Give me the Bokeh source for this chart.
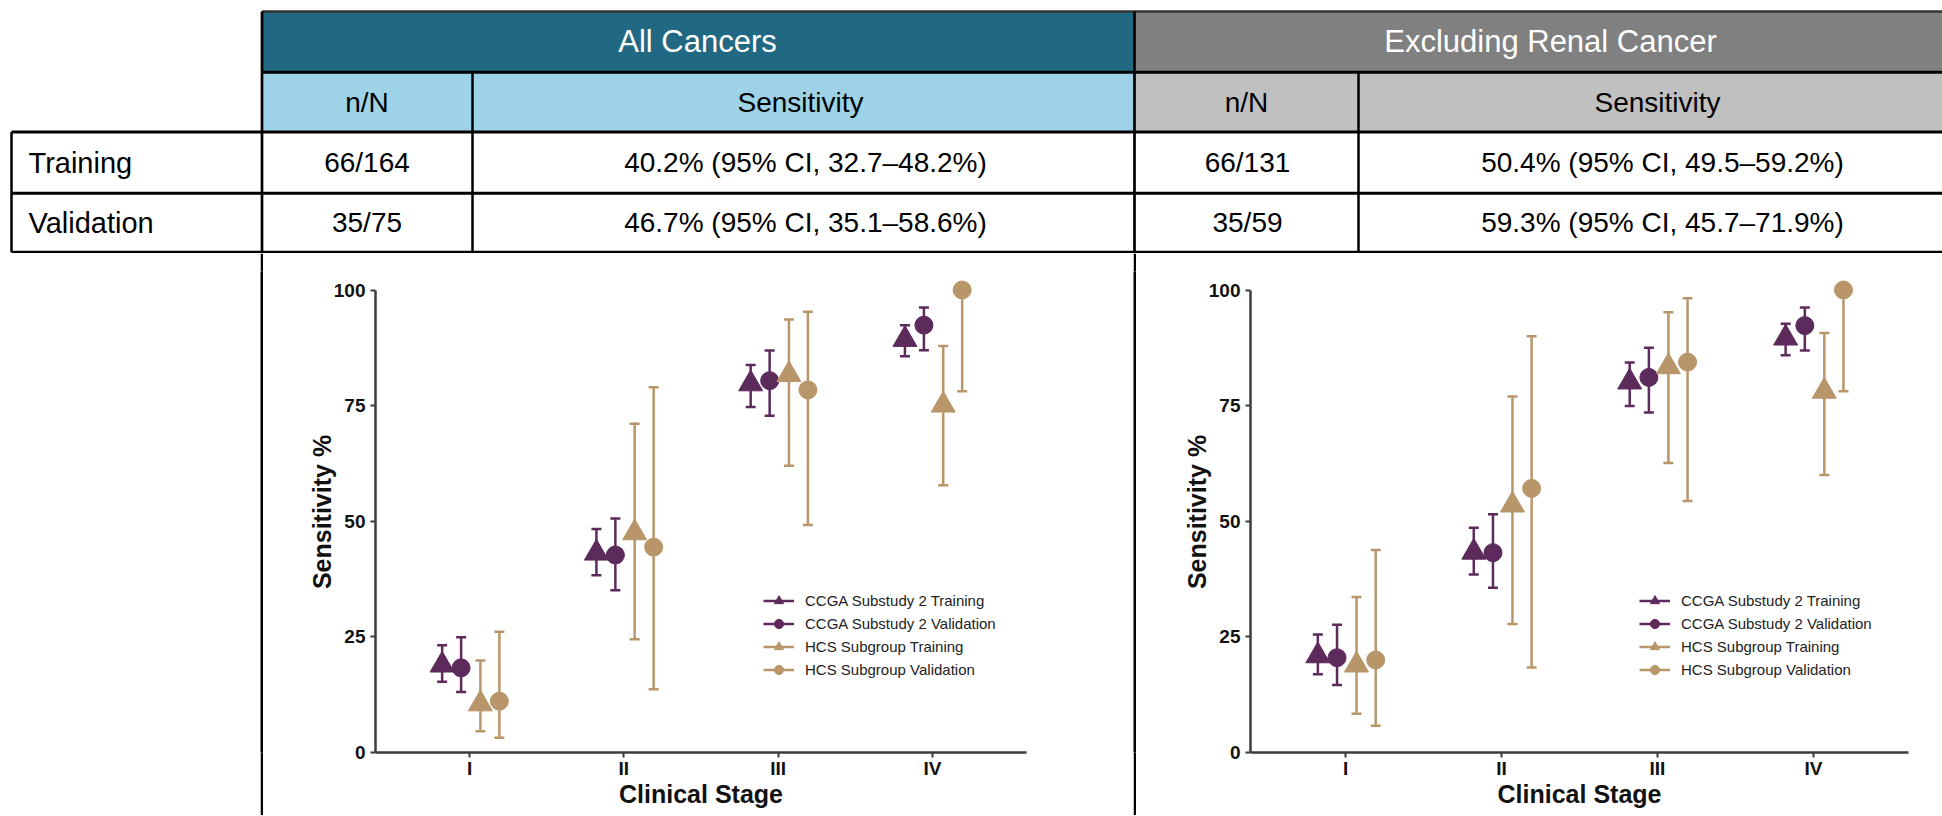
from bokeh.plotting import figure
from bokeh.layouts import column, row
from bokeh.models import ColumnDataSource, FactorRange, Range1d, FixedTicker, Legend, LegendItem
from bokeh.transform import dodge
from bokeh.core.properties import value
from bokeh.embed import file_html
from bokeh.resources import INLINE

# ---------------- table content ----------------
group_titles = ["All Cancers", "Excluding Renal Cancer"]
column_titles = ["n/N", "Sensitivity"]
row_labels = ["Training", "Validation"]
all_nN = ["66/164", "35/75"]
all_sens = ["40.2% (95% CI, 32.7–48.2%)", "46.7% (95% CI, 35.1–58.6%)"]
excl_nN = ["66/131", "35/59"]
excl_sens = ["50.4% (95% CI, 49.5–59.2%)", "59.3% (95% CI, 45.7–71.9%)"]

# ---------------- sensitivity by clinical stage ----------------
stages = ["I", "II", "III", "IV"]
series_names = ["CCGA Substudy 2 Training", "CCGA Substudy 2 Validation",
                "HCS Subgroup Training", "HCS Subgroup Validation"]

# All cancers
all_ccga_train = [18.9, 43.1, 79.7, 89.3]
all_ccga_train_lo = [15.3, 38.3, 74.7, 85.7]
all_ccga_train_hi = [23.2, 48.3, 83.8, 92.4]
all_ccga_val = [18.3, 42.7, 80.4, 92.4]
all_ccga_val_lo = [13.1, 35.1, 72.8, 87.0]
all_ccga_val_hi = [24.9, 50.6, 86.9, 96.2]
all_hcs_train = [10.5, 47.5, 81.7, 75.1]
all_hcs_train_lo = [4.6, 24.5, 62.0, 57.8]
all_hcs_train_hi = [19.9, 71.1, 93.6, 87.9]
all_hcs_val = [11.1, 44.4, 78.4, 100.0]
all_hcs_val_lo = [3.2, 13.7, 49.2, 78.1]
all_hcs_val_hi = [26.1, 79.0, 95.3, 100.0]

# Excluding renal cancer
ex_ccga_train = [20.9, 43.3, 80.1, 89.6]
ex_ccga_train_lo = [16.9, 38.5, 74.9, 85.9]
ex_ccga_train_hi = [25.5, 48.6, 84.3, 92.7]
ex_ccga_val = [20.5, 43.2, 81.1, 92.3]
ex_ccga_val_lo = [14.6, 35.6, 73.5, 86.9]
ex_ccga_val_hi = [27.6, 51.5, 87.5, 96.2]
ex_hcs_train = [18.9, 53.5, 83.4, 78.1]
ex_hcs_train_lo = [8.4, 27.8, 62.6, 60.0]
ex_hcs_train_hi = [33.6, 77.0, 95.2, 90.7]
ex_hcs_val = [20.0, 57.1, 84.4, 100.0]
ex_hcs_val_lo = [5.8, 18.4, 54.4, 78.1]
ex_hcs_val_hi = [43.8, 90.0, 98.2, 100.0]

PURPLE = "#5c2a5b"
TAN = "#b8966a"
TEAL = "#216882"
LIGHT_BLUE = "#9dd2e7"
DARK_GREY = "#808080"
LIGHT_GREY = "#c0c0c0"
FONT = "Liberation Sans"

series_style = [
    ("triangle", PURPLE, -0.178, 24),
    ("circle", PURPLE, -0.055, 18),
    ("triangle", TAN, 0.07, 24),
    ("circle", TAN, 0.193, 18),
]


def blank(width, height, fill="white"):
    f = figure(width=width, height=height, x_range=Range1d(0, 1), y_range=Range1d(0, 1),
               x_axis_location=None, y_axis_location=None, toolbar_location=None,
               output_backend="svg", min_border=0, outline_line_color=None,
               background_fill_color=fill, border_fill_color=fill)
    f.grid.visible = False
    return f


# ---------------- table ----------------
W = 1942
TH = 253
tbl = figure(width=W, height=TH, x_range=Range1d(0, W), y_range=Range1d(TH, 0),
             x_axis_location=None, y_axis_location=None, toolbar_location=None,
             output_backend="svg", min_border=0, outline_line_color=None)
tbl.grid.visible = False

y_top, y_h1, y_h2, y_r1, y_r2 = 11, 71.7, 131.5, 192.7, 251.7
x_left, x_g1, x_c1, x_g2, x_c2, x_right = 11, 261.5, 472, 1134, 1358, 1960

tbl.quad(left=[x_g1, x_g2, x_g1, x_g2], right=[x_g2, x_right, x_g2, x_right],
         top=[y_top, y_top, y_h1, y_h1], bottom=[y_h1, y_h1, y_h2, y_h2],
         fill_color=[TEAL, DARK_GREY, LIGHT_BLUE, LIGHT_GREY], line_color=None)

# horizontal rules
tbl.segment(x0=[x_g1], y0=[y_top], x1=[x_right], y1=[y_top], line_color="#333333", line_width=2.5)
tbl.segment(x0=[x_g1, x_left, x_left, x_left], y0=[y_h1, y_h2, y_r1, y_r2],
            x1=[x_right] * 4, y1=[y_h1, y_h2, y_r1, y_r2], line_color="black", line_width=3)
# vertical rules
tbl.segment(x0=[x_g1, x_g2], y0=[y_top, y_top], x1=[x_g1, x_g2], y1=[TH, TH],
            line_color="black", line_width=2.7)
tbl.segment(x0=[x_c1, x_c2, x_left], y0=[y_h1, y_h1, y_h2], x1=[x_c1, x_c2, x_left], y1=[y_r2, y_r2, y_r2],
            line_color="black", line_width=2.5)


def txt(size, align="center"):
    return dict(text_font=value(FONT), text_font_size=value(size), text_align=align,
                text_baseline="middle")


tbl.text(x=[697, 1550], y=[(y_top + y_h1) / 2] * 2, text=group_titles, text_color="white", **txt("31px"))
tbl.text(x=[366.5, 800, 1246, 1657], y=[(y_h1 + y_h2) / 2] * 4,
         text=column_titles + column_titles, text_color="black", **txt("28px"))
row_y = [(y_h2 + y_r1) / 2, (y_r1 + y_r2) / 2]
tbl.text(x=[366.5] * 2, y=row_y, text=all_nN, text_color="black", **txt("28px"))
tbl.text(x=[805] * 2, y=row_y, text=all_sens, text_color="black", **txt("28px"))
tbl.text(x=[1247] * 2, y=row_y, text=excl_nN, text_color="black", **txt("28px"))
tbl.text(x=[1662] * 2, y=row_y, text=excl_sens, text_color="black", **txt("28px"))
tbl.text(x=[28] * 2, y=row_y, text=row_labels, text_color="black", **txt("29px", "left"))


# ---------------- stage panels ----------------
PH = 562


def stage_panel(width, left, right, legend_x, data):
    p = figure(width=width, height=PH,
               x_range=FactorRange(*stages, range_padding=0.11, range_padding_units="absolute"),
               y_range=Range1d(0, 104), toolbar_location=None, output_backend="svg",
               min_border_left=left, min_border_right=right, min_border_top=18, min_border_bottom=63,
               outline_line_color=None)
    p.grid.visible = False
    items = []
    for name, (marker, color, off, size), (val, lo, hi) in zip(series_names, series_style, data):
        src = ColumnDataSource(dict(stage=stages, val=val, lo=lo, hi=hi))
        xs = dodge("stage", off, range=p.x_range)
        seg = p.segment(x0=xs, y0="lo", x1=xs, y1="hi", source=src, line_color=color, line_width=2.5)
        p.scatter(x=xs, y="hi", source=src, marker="dash", size=10, line_color=color, line_width=2.5)
        p.scatter(x=xs, y="lo", source=src, marker="dash", size=10, line_color=color, line_width=2.5)
        mk = p.scatter(x=xs, y="val", source=src, marker=marker, size=size,
                       fill_color=color, line_color=color)
        items.append(LegendItem(label=name, renderers=[seg, mk]))

    legend = Legend(items=items, location=(legend_x, 71), padding=0, margin=0, spacing=0,
                    glyph_width=31, glyph_height=23, label_height=23, label_standoff=11,
                    label_text_font=FONT, label_text_font_size="15px", label_text_color="#222222",
                    border_line_color=None, background_fill_alpha=0)
    p.add_layout(legend)

    p.yaxis.ticker = FixedTicker(ticks=[0, 25, 50, 75, 100])
    p.yaxis.bounds = (0, 100)
    p.xaxis.axis_label = "Clinical Stage"
    p.yaxis.axis_label = "Sensitivity %"
    for ax in p.axis:
        ax.axis_line_color = "#3c3c3c"
        ax.axis_line_width = 2.5
        ax.major_tick_line_color = "#3c3c3c"
        ax.major_tick_line_width = 2
        ax.major_tick_out = 5
        ax.major_tick_in = 0
        ax.minor_tick_line_color = None
        ax.major_label_text_font = FONT
        ax.major_label_text_font_style = "bold"
        ax.major_label_text_font_size = "19px"
        ax.major_label_text_color = "#111111"
        ax.axis_label_text_font = FONT
        ax.axis_label_text_font_style = "bold"
        ax.axis_label_text_font_size = "25px"
        ax.axis_label_text_color = "#111111"
    p.yaxis.major_label_standoff = 5
    p.yaxis.axis_label_standoff = -5
    p.xaxis.major_label_standoff = 0
    p.xaxis.axis_label_standoff = -2
    return p


all_data = [
    (all_ccga_train, all_ccga_train_lo, all_ccga_train_hi),
    (all_ccga_val, all_ccga_val_lo, all_ccga_val_hi),
    (all_hcs_train, all_hcs_train_lo, all_hcs_train_hi),
    (all_hcs_val, all_hcs_val_lo, all_hcs_val_hi),
]
ex_data = [
    (ex_ccga_train, ex_ccga_train_lo, ex_ccga_train_hi),
    (ex_ccga_val, ex_ccga_val_lo, ex_ccga_val_hi),
    (ex_hcs_train, ex_hcs_train_lo, ex_hcs_train_hi),
    (ex_hcs_val, ex_hcs_val_lo, ex_hcs_val_hi),
]

p_all = stage_panel(870, 112, 107, 388, all_data)
p_ex = stage_panel(806, 114, 34, 389, ex_data)

panels = row(blank(260, PH), blank(3, PH, "black"), p_all, blank(3, PH, "black"), p_ex)
page = column(tbl, panels, blank(W, 1, "#8c8c8c"))

open("out.html", "w").write(file_html(page, INLINE))
